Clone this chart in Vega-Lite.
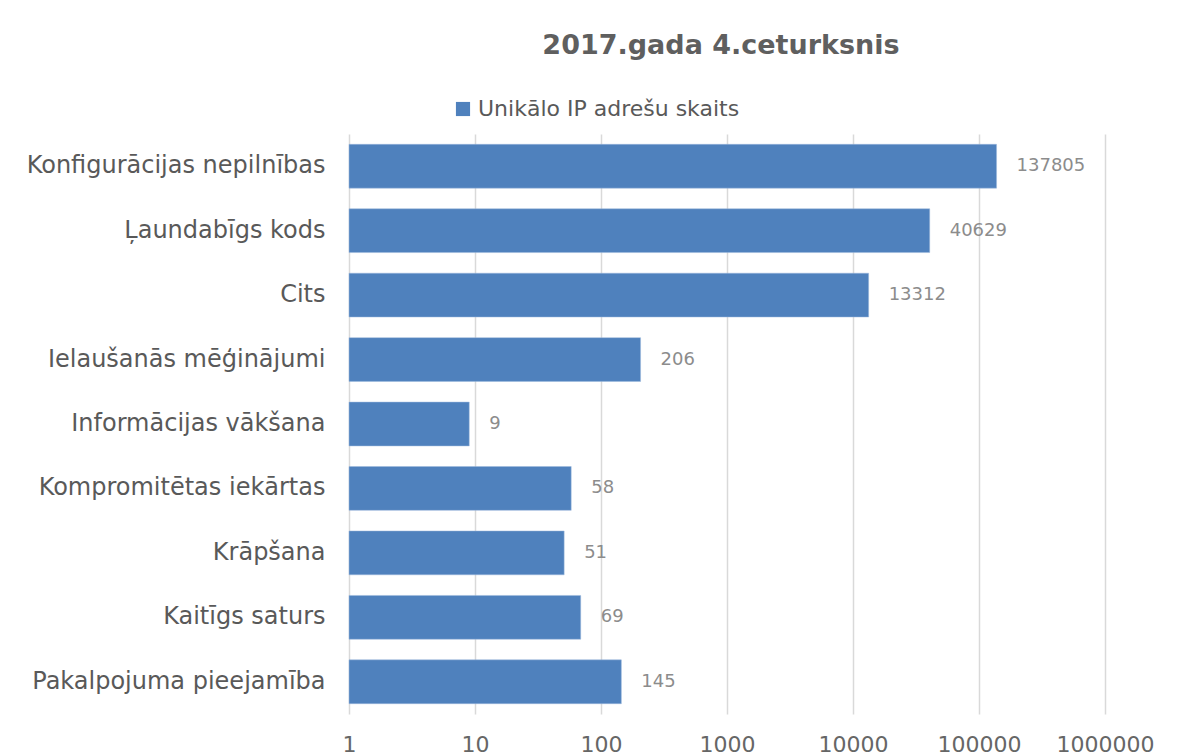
{
  "$schema": "https://vega.github.io/schema/vega-lite/v6.json",
  "width": 756,
  "height": 580,
  "autosize": {"type": "none"},
  "padding": {"left": 349, "top": 134, "right": 98, "bottom": 42},
  "background": "white",
  "config": {
    "font": "DejaVu Sans",
    "view": {"stroke": null}
  },
  "title": {
    "text": "2017.gada 4.ceturksnis",
    "fontSize": 27,
    "fontWeight": "bold",
    "color": "#5f5f5f",
    "anchor": "middle",
    "offset": 38,
    "dx": -6
  },
  "data": {
    "values": [
      {"kategorija": "Konfigurācijas nepilnības", "skaits": 137805, "serija": "Unikālo IP adrešu skaits"},
      {"kategorija": "Ļaundabīgs kods", "skaits": 40629, "serija": "Unikālo IP adrešu skaits"},
      {"kategorija": "Cits", "skaits": 13312, "serija": "Unikālo IP adrešu skaits"},
      {"kategorija": "Ielaušanās mēģinājumi", "skaits": 206, "serija": "Unikālo IP adrešu skaits"},
      {"kategorija": "Informācijas vākšana", "skaits": 9, "serija": "Unikālo IP adrešu skaits"},
      {"kategorija": "Kompromitētas iekārtas", "skaits": 58, "serija": "Unikālo IP adrešu skaits"},
      {"kategorija": "Krāpšana", "skaits": 51, "serija": "Unikālo IP adrešu skaits"},
      {"kategorija": "Kaitīgs saturs", "skaits": 69, "serija": "Unikālo IP adrešu skaits"},
      {"kategorija": "Pakalpojuma pieejamība", "skaits": 145, "serija": "Unikālo IP adrešu skaits"}
    ]
  },
  "encoding": {
    "y": {
      "field": "kategorija",
      "type": "nominal",
      "sort": null,
      "scale": {"paddingInner": 0.32, "paddingOuter": 0.16},
      "axis": {
        "title": null,
        "ticks": false,
        "domain": false,
        "labelFontSize": 24,
        "labelColor": "#595959",
        "labelPadding": 24,
        "labelLimit": 400
      }
    },
    "x": {
      "field": "skaits",
      "type": "quantitative",
      "scale": {"type": "log", "domain": [1, 1000000], "nice": false},
      "axis": {
        "title": null,
        "values": [1, 10, 100, 1000, 10000, 100000, 1000000],
        "format": "d",
        "grid": true,
        "gridColor": "#d9d9d9",
        "gridWidth": 1.5,
        "domain": false,
        "ticks": false,
        "labelFontSize": 22,
        "labelColor": "#666666",
        "labelPadding": 20,
        "labelFlush": false,
        "labelOverlap": false
      }
    }
  },
  "layer": [
    {
      "mark": {"type": "bar", "stroke": "#9db9dc", "strokeWidth": 0.5},
      "encoding": {
        "x2": {"datum": 1},
        "color": {
          "field": "serija",
          "type": "nominal",
          "scale": {"range": ["#4f81bd"]},
          "legend": {
            "title": null,
            "orient": "none",
            "legendX": 103,
            "legendY": -36,
            "symbolType": "square",
            "symbolSize": 200,
            "symbolStrokeWidth": 0,
            "labelFontSize": 22,
            "labelColor": "#595959",
            "labelOffset": 4,
            "labelLimit": 500
          }
        }
      }
    },
    {
      "mark": {"type": "text", "align": "left", "baseline": "middle", "dx": 20, "fontSize": 18, "color": "#8c8c8c"},
      "encoding": {
        "text": {"field": "skaits", "type": "quantitative", "format": "d"}
      }
    }
  ]
}
